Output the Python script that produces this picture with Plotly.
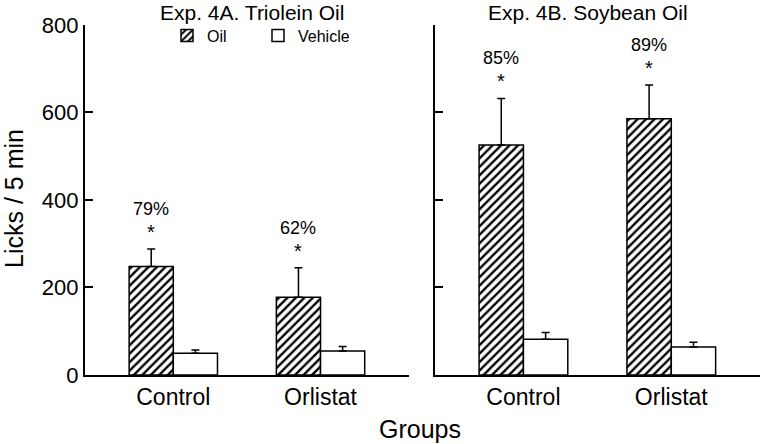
import plotly.graph_objects as go

groups = ["Control", "Orlistat"]
# Exp 4A Triolein
a_oil = [248, 178]
a_oil_err = [40, 67]
a_veh = [50, 55]
a_veh_err = [7, 10]
a_pct = ["79%", "62%"]
# Exp 4B Soybean
b_oil = [526, 586]
b_oil_err = [106, 77]
b_veh = [82, 64]
b_veh_err = [15, 11]
b_pct = ["85%", "89%"]

FONT = "Liberation Sans, Arial, sans-serif"
xpos = [0, 1]

fig = go.Figure()

def add_panel(oil, oil_err, veh, veh_err, xa, ya, show):
    fig.add_trace(go.Bar(
        x=xpos, y=oil, name="Oil", xaxis=xa, yaxis=ya, showlegend=show,
        offsetgroup="oil",
        marker=dict(color="white", line=dict(color="black", width=1.5),
                    pattern=dict(shape="/", fgcolor="black", bgcolor="white", size=6, solidity=0.4)),
        error_y=dict(type="data", symmetric=False, array=oil_err, arrayminus=[0, 0],
                     color="black", thickness=1.5, width=4),
    ))
    fig.add_trace(go.Bar(
        x=xpos, y=veh, name="Vehicle", xaxis=xa, yaxis=ya, showlegend=show,
        offsetgroup="veh",
        marker=dict(color="white", line=dict(color="black", width=1.5)),
        error_y=dict(type="data", symmetric=False, array=veh_err, arrayminus=[0, 0],
                     color="black", thickness=1.5, width=4),
    ))

add_panel(a_oil, a_oil_err, a_veh, a_veh_err, "x", "y", True)
add_panel(b_oil, b_oil_err, b_veh, b_veh_err, "x2", "y2", False)

ydom = [0.1554, 0.9437]
axis_common = dict(showline=True, linecolor="black", linewidth=2, showgrid=False, zeroline=False,
                   automargin=False)
xcommon = dict(axis_common, range=[-0.6, 1.6], tickvals=xpos, ticktext=groups, ticks="",
               tickfont=dict(family=FONT, size=23, color="black"))
ycommon = dict(axis_common, range=[0, 800], tickvals=[0, 200, 400, 600, 800], ticks="inside",
               ticklen=8, tickwidth=2, tickcolor="black",
               tickfont=dict(family=FONT, size=22, color="black"))

fig.update_layout(
    template="none",
    width=760, height=444,
    margin=dict(l=0, r=0, t=0, b=0, autoexpand=False),
    plot_bgcolor="white", paper_bgcolor="white",
    barmode="group", bargap=0.4, bargroupgap=0,
    xaxis=dict(xcommon, domain=[0.1118, 0.538], anchor="y"),
    yaxis=dict(ycommon, domain=ydom, anchor="x"),
    xaxis2=dict(xcommon, domain=[0.572, 1.0], anchor="y2"),
    yaxis2=dict(ycommon, domain=ydom, anchor="x2", showticklabels=False),
    legend=dict(orientation="h", x=167/760, y=0.958, xanchor="left", yanchor="top",
                font=dict(family=FONT, size=16, color="black"), itemwidth=30,
                entrywidth=46, entrywidthmode="pixels",
                bgcolor="rgba(0,0,0,0)", traceorder="normal"),
    font=dict(family=FONT, color="black"),
)

ann = []
for i in range(2):
    for pct, oil, err, xa, ya in [(a_pct[i], a_oil[i], a_oil_err[i], "x", "y"),
                                  (b_pct[i], b_oil[i], b_oil_err[i], "x2", "y2")]:
        top = oil + err
        ann.append(dict(x=xpos[i] - 0.15, y=top, xref=xa, yref=ya, text="*", showarrow=False,
                        yanchor="bottom", yshift=4, font=dict(family=FONT, size=20, color="black")))
        ann.append(dict(x=xpos[i] - 0.15, y=top, xref=xa, yref=ya, text=pct, showarrow=False,
                        yanchor="bottom", yshift=28, font=dict(family=FONT, size=18, color="black")))

ann += [
    dict(x=252/760, y=1.0, xref="paper", yref="paper", text="Exp. 4A. Triolein Oil",
         showarrow=False, xanchor="center", yanchor="top", borderpad=0,
         font=dict(family=FONT, size=21, color="black")),
    dict(x=588/760, y=1.0, xref="paper", yref="paper", text="Exp. 4B. Soybean Oil",
         showarrow=False, xanchor="center", yanchor="top", borderpad=0,
         font=dict(family=FONT, size=21, color="black")),
    dict(x=14/760, y=1-199/444, xref="paper", yref="paper", text="Licks / 5 min", textangle=-90,
         showarrow=False, xanchor="center", yanchor="middle", font=dict(family=FONT, size=25, color="black")),
    dict(x=420/760, y=1-429/444, xref="paper", yref="paper", text="Groups",
         showarrow=False, xanchor="center", yanchor="middle", font=dict(family=FONT, size=25, color="black")),
]
fig.update_layout(annotations=ann)

fig.write_html("out.html", config={"displayModeBar": False},
               post_script="document.body.style.margin='0px';document.body.style.padding='0px';")
